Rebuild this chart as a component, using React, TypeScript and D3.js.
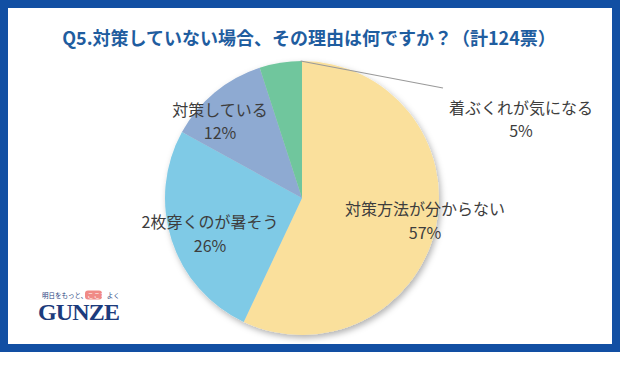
import { useEffect, useRef } from 'react';
import * as d3 from 'd3';

// Q5 answers (124 votes total), clockwise from 12 o'clock
const categories = ['対策方法が分からない', '2枚穿くのが暑そう', '対策している', '着ぶくれが気になる'];
const percents = [57, 26, 12, 5];
const sliceColors = ['#fae09c', '#7fcae6', '#8eaad2', '#6fc69d'];
const titleText = 'Q5.対策していない場合、その理由は何ですか？（計124票）';
const logoTagline = ['明日をもっと、', 'ここち', 'よく'];
const logoName = 'GUNZE';

const App = () => {
	const ref = useRef<SVGSVGElement>(null);

	useEffect(() => {
		const width = 640,
			height = 370;
		const cx = 302,
			cy = 198,
			radius = 137;
		const jp = '"Noto Sans CJK JP", "Noto Sans", sans-serif';

		const svg = d3.select(ref.current).attr('width', width).attr('height', height);
		svg.selectAll('*').remove();

		svg.append('rect').attr('width', width).attr('height', height).attr('fill', '#ffffff');

		// blue frame
		const frameColor = '#124fa3';
		svg
			.append('rect')
			.attr('x', 4)
			.attr('y', 4)
			.attr('width', 612)
			.attr('height', 344)
			.attr('fill', 'none')
			.attr('stroke', frameColor)
			.attr('stroke-width', 8);

		// drop shadow for the pie
		const defs = svg.append('defs');
		defs
			.append('filter')
			.attr('id', 'pie-shadow')
			.attr('x', '-20%')
			.attr('y', '-20%')
			.attr('width', '140%')
			.attr('height', '140%')
			.append('feDropShadow')
			.attr('dx', 2)
			.attr('dy', 3)
			.attr('stdDeviation', 3)
			.attr('flood-color', '#000')
			.attr('flood-opacity', 0.3);

		// title
		svg
			.append('text')
			.attr('x', 309)
			.attr('y', 37)
			.attr('text-anchor', 'middle')
			.attr('dominant-baseline', 'central')
			.style('font-family', jp)
			.style('font-weight', 700)
			.style('font-size', '18px')
			.attr('fill', '#1f5d9f')
			.text(titleText);

		const data = categories.map((c, i) => ({ name: c, value: percents[i] }));
		const pie = d3
			.pie<{ name: string; value: number }>()
			.sort(null)
			.value((d) => d.value);
		const arcs = pie(data);
		const arc = d3
			.arc<d3.PieArcDatum<{ name: string; value: number }>>()
			.innerRadius(0)
			.outerRadius(radius);

		const g = svg.append('g').attr('transform', `translate(${cx},${cy})`);
		g.append('g')
			.attr('filter', 'url(#pie-shadow)')
			.selectAll('path')
			.data(arcs)
			.join('path')
			.attr('d', arc)
			.attr('fill', (d, i) => sliceColors[i]);

		// leader line for the small slice
		const last = arcs[arcs.length - 1];
		const a = last.endAngle - 0.01;
		g.append('line')
			.attr('x1', Math.sin(a) * radius)
			.attr('y1', -Math.cos(a) * radius)
			.attr('x2', 141)
			.attr('y2', -110)
			.attr('stroke', '#9a9a9a')
			.attr('stroke-width', 1.2);

		// label anchors (relative to pie centre): x, first line y, line gap
		const labelPos = [
			[123, 10, 24],
			[-92, 23, 24],
			[-82, -89, 23],
			[219, -91, 23],
		];
		arcs.forEach((d, i) => {
			const [lx, ly, gap] = labelPos[i];
			const t = g
				.append('text')
				.attr('text-anchor', 'middle')
				.style('font-family', jp)
				.style('font-size', '16px')
				.attr('fill', '#3d3d3d');
			t.append('tspan').attr('x', lx).attr('y', ly).attr('dominant-baseline', 'central').text(d.data.name);
			t.append('tspan')
				.attr('x', lx)
				.attr('y', ly + gap)
				.attr('dominant-baseline', 'central')
				.text(`${d.data.value}%`);
		});

		// GUNZE logo
		const logo = svg.append('g').attr('transform', 'translate(38,295)');
		logo.append('rect').attr('x', 47).attr('y', -4.5).attr('width', 17).attr('height', 9).attr('rx', 3).attr('fill', '#f08a86');
		const tag = logo
			.append('text')
			.attr('x', 4)
			.attr('y', 0)
			.attr('dominant-baseline', 'central')
			.style('font-family', jp)
			.style('font-size', '6.5px')
			.attr('fill', '#1f3f7e');
		tag.append('tspan').text(logoTagline[0]);
		tag.append('tspan').attr('fill', '#ffffff').text(logoTagline[1]);
		tag.append('tspan').text(logoTagline[2]);
		logo
			.append('text')
			.attr('x', 0)
			.attr('y', 25)
			.attr('textLength', 82)
			.style('font-family', '"Liberation Serif", serif')
			.style('font-weight', 700)
			.style('font-size', '24px')
			.attr('fill', '#1c3b7c')
			.text(logoName);
	}, []);

	return <svg ref={ref} width={640} height={370} style={{ position: 'absolute', left: 0, top: 0 }}></svg>;
};

export default App;
